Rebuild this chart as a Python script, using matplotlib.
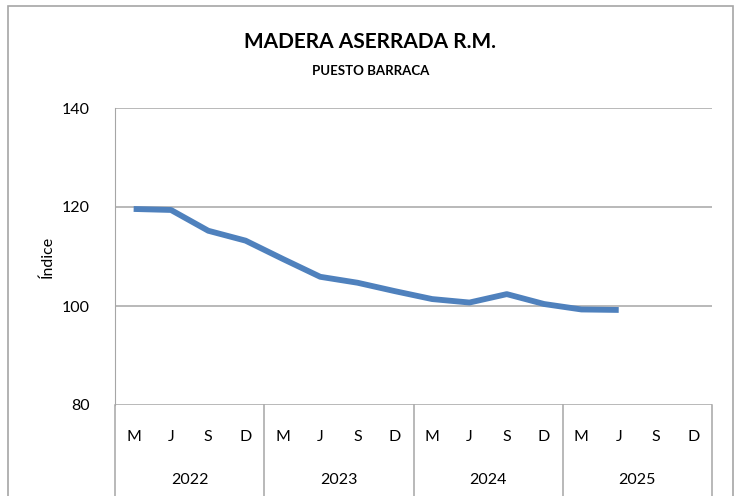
import numpy as np
import matplotlib
matplotlib.use('Agg')
import matplotlib.pyplot as plt
from matplotlib.patches import Rectangle

plt.rcParams['font.family'] = ['Lato', 'DejaVu Sans']

# data
years = ['2022', '2023', '2024', '2025']
months = ['M', 'J', 'S', 'D']
indice = [119.6, 119.4, 115.2, 113.2, 109.5, 105.9, 104.7, 103.0,
          101.4, 100.7, 102.4, 100.4, 99.3, 99.2]
y_ticks = [80, 100, 120, 140]

grid_col = '#A6A6A6'
line_col = '#4F81BD'

fig = plt.figure(figsize=(7.41, 4.96), dpi=100)
ax = fig.add_axes([115 / 741, 1 - 405 / 496, 597 / 741, 297 / 496])

n_cat = len(years) * len(months)
x = np.arange(len(indice))
ax.plot(x, indice, color=line_col, lw=4.2, solid_capstyle='butt', solid_joinstyle='round')

ax.set_xlim(-0.5, n_cat - 0.5)
ax.set_ylim(80, 140)
ax.set_yticks(y_ticks)
ax.tick_params(axis='y', length=0, pad=18, labelsize=11.5)
ax.set_xticks([])
for s in ['top', 'right', 'bottom']:
    ax.spines[s].set_visible(False)
ax.spines['left'].set_color(grid_col)
for v in y_ticks:
    ax.axhline(v, color=grid_col, lw=1.1, zorder=0)

ax.set_ylabel('Índice', fontsize=11.5, labelpad=5)

# two-level category axis
trans = ax.get_xaxis_transform()
for i in range(n_cat):
    ax.text(i, -0.108, months[i % 4], transform=trans, ha='center', va='center', fontsize=11.5)
for k, yr in enumerate(years):
    ax.text(k * 4 + 1.5, -0.2525, yr, transform=trans, ha='center', va='center', fontsize=11.5)
for b in range(len(years) + 1):
    ax.plot([b * 4 - 0.5] * 2, [0, -0.4], transform=trans, color=grid_col, lw=1.1, clip_on=False)

fig.text(0.5, 1 - 42 / 496, 'MADERA ASERRADA R.M.', ha='center', va='center',
         fontsize=15, fontweight='bold')
fig.text(0.5, 1 - 71 / 496, 'PUESTO BARRACA', ha='center', va='center',
         fontsize=9.5, fontweight='bold')

fig.patches.append(Rectangle((8 / 741, -0.1), 725 / 741, 1.1 - 6 / 496,
                             transform=fig.transFigure, fill=False,
                             edgecolor=grid_col, lw=1.2))

fig.savefig('out.png', dpi=100)
